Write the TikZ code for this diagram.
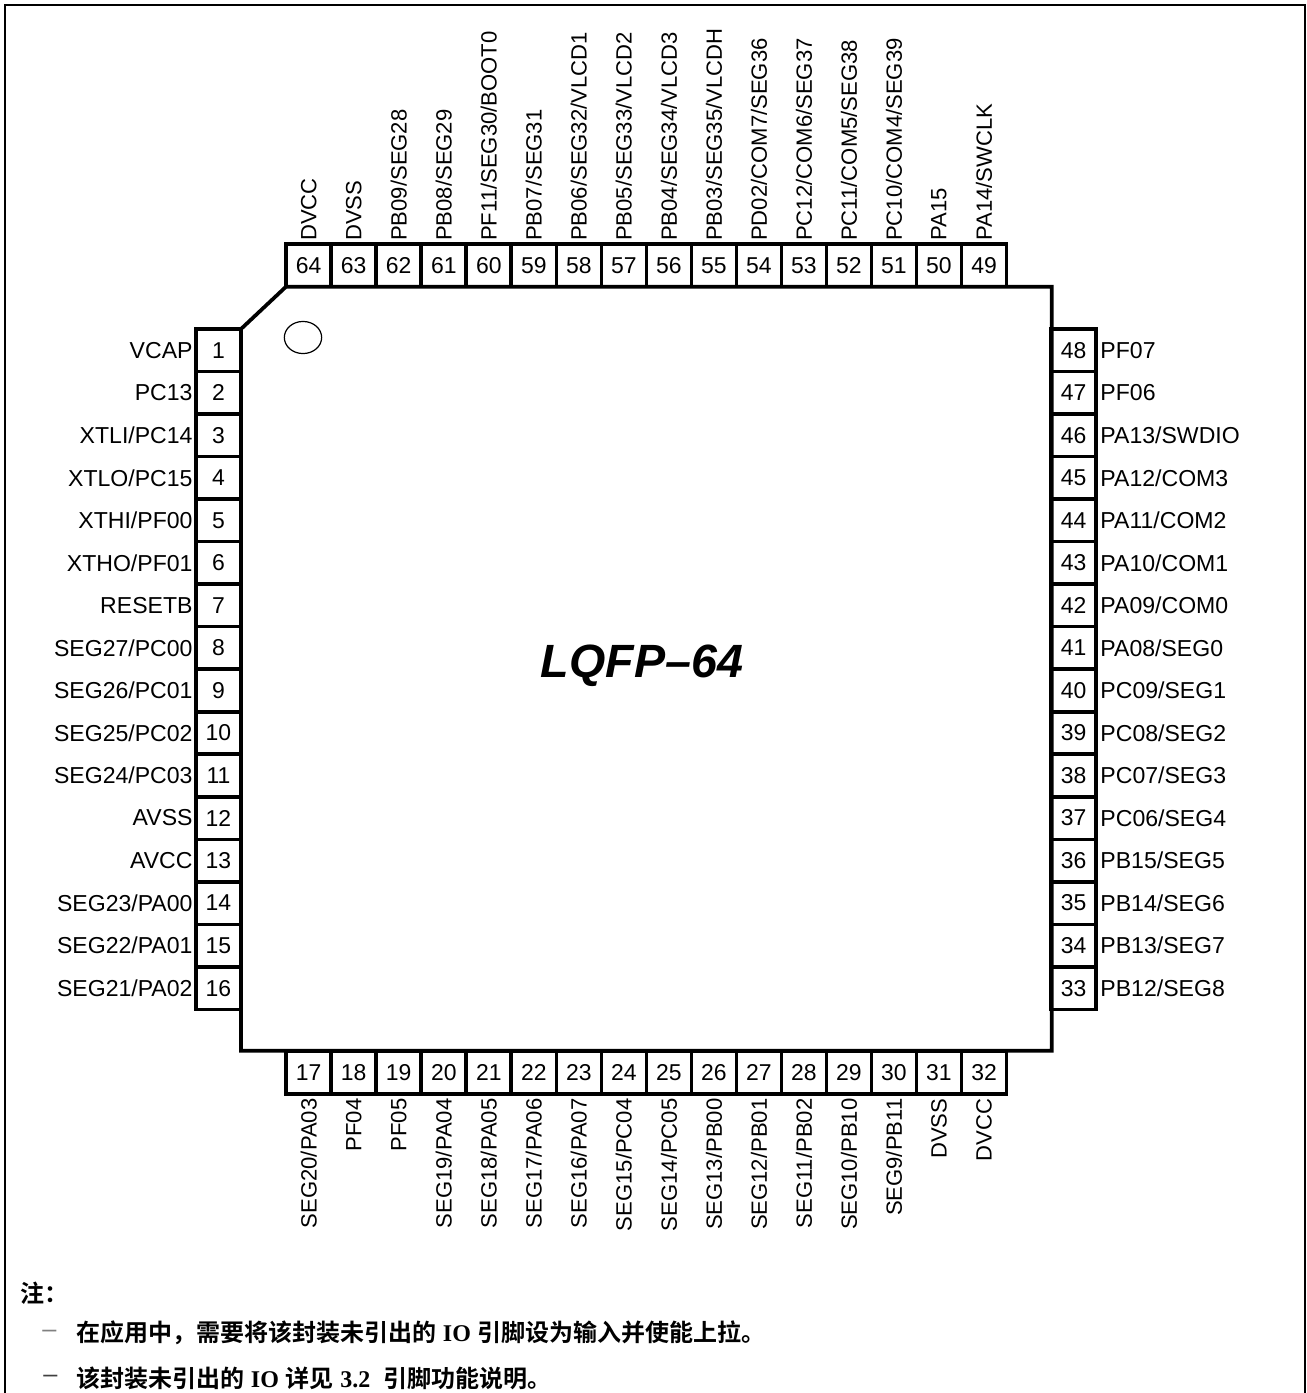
\documentclass[tikz,border=0pt]{standalone}
\usepackage{fontspec}
\setmainfont{Liberation Sans}
\newfontfamily\cjk{Noto Sans CJK SC Bold}
\newfontfamily\latn{Liberation Serif}
\usetikzlibrary{positioning}
\newcommand{\Note}[1]{{\cjk #1}}
\newcommand{\Io}[1]{{\latn\bfseries #1}}
\tikzset{
    pinbox/.style={draw, line width=2.7pt, inner sep=0pt, outer sep=0pt, font=\fontsize{17.2}{20}\selectfont},
    hpin/.style={pinbox, minimum width=33.75pt, minimum height=31.9pt},
    vpin/.style={pinbox, minimum width=33.75pt, minimum height=32pt},
    pinname/.style={inner sep=0pt, font=\fontsize{17.3}{20}\selectfont},
    upname/.style={inner sep=0pt, rotate=90, font=\fontsize{16.55}{20}\selectfont},
    notetext/.style={inner sep=0pt, anchor=west, font=\fontsize{18}{22}\selectfont},
    notedash/.style={inner sep=0pt, anchor=west, font=\fontsize{19}{22}\selectfont},
}
\begin{document}
\begin{tikzpicture}[x=0.75pt, y=-0.75pt]
    \useasboundingbox (0,0) rectangle (1307,1393);

    % frame, open at the bottom
    \draw[line width=1.9pt] (5,1393) -- (5,5) -- (1305,5) -- (1305,1393);

    % package body
    \draw[line width=2.8pt, line join=miter] (286,286.7) -- (1051.7,286.7) -- (1051.7,1050.7)
      -- (241,1050.7) -- (241,329) -- cycle;
    \node[draw, circle, line width=0.9pt, minimum width=28pt, minimum height=0pt, inner sep=0pt,
      yscale=0.86] (dot) at (303,337.5) {};
    \node[inner sep=0pt, font=\fontsize{35}{40}\selectfont\bfseries\itshape] (title) at (642,666) {LQFP\textendash 64};

    % left side
    \foreach \n/\t [count=\i from 0] in {1/VCAP, 2/PC13, 3/XTLI\slash PC14, 4/XTLO\slash PC15,
        5/XTHI\slash PF00, 6/XTHO\slash PF01, 7/RESETB, 8/SEG27\slash PC00, 9/SEG26\slash PC01,
        10/SEG25\slash PC02, 11/SEG24\slash PC03, 12/AVSS, 13/AVCC, 14/SEG23\slash PA00,
        15/SEG22\slash PA01, 16/SEG21\slash PA02} {
      \node[hpin] (p\n) at (218.5,350.2+42.53*\i) {\n};
      \node[pinname, left=2.4pt of p\n] (n\n) {\t};
    }

    % right side
    \foreach \n/\t [count=\i from 0] in {48/PF07, 47/PF06, 46/PA13\slash SWDIO, 45/PA12\slash COM3,
        44/PA11\slash COM2, 43/PA10\slash COM1, 42/PA09\slash COM0, 41/PA08\slash SEG0,
        40/PC09\slash SEG1, 39/PC08\slash SEG2, 38/PC07\slash SEG3, 37/PC06\slash SEG4,
        36/PB15\slash SEG5, 35/PB14\slash SEG6, 34/PB13\slash SEG7, 33/PB12\slash SEG8} {
      \node[hpin] (p\n) at (1073.7,350.2+42.53*\i) {\n};
      \node[pinname, right=3pt of p\n] (n\n) {\t};
    }

    % top side
    \foreach \n/\t [count=\i from 0] in {64/DVCC, 63/DVSS, 62/PB09\slash SEG28, 61/PB08\slash SEG29,
        60/PF11\slash SEG30\slash BOOT0, 59/PB07\slash SEG31, 58/PB06\slash SEG32\slash VLCD1,
        57/PB05\slash SEG33\slash VLCD2, 56/PB04\slash SEG34\slash VLCD3, 55/PB03\slash SEG35\slash VLCDH,
        54/PD02\slash COM7\slash SEG36, 53/PC12\slash COM6\slash SEG37, 52/PC11\slash COM5\slash SEG38,
        51/PC10\slash COM4\slash SEG39, 50/PA15, 49/PA14\slash SWCLK} {
      \node[vpin] (p\n) at (308.7+45.02*\i,265.3) {\n};
      \node[upname, anchor=west] (n\n) at ([yshift=2.2pt]p\n.north) {\t};
    }

    % bottom side
    \foreach \n/\t [count=\i from 0] in {17/SEG20\slash PA03, 18/PF04, 19/PF05, 20/SEG19\slash PA04,
        21/SEG18\slash PA05, 22/SEG17\slash PA06, 23/SEG16\slash PA07, 24/SEG15\slash PC04,
        25/SEG14\slash PC05, 26/SEG13\slash PB00, 27/SEG12\slash PB01, 28/SEG11\slash PB02,
        29/SEG10\slash PB10, 30/SEG9\slash PB11, 31/DVSS, 32/DVCC} {
      \node[vpin] (p\n) at (308.7+45.02*\i,1072.5) {\n};
      \node[upname, anchor=east] (n\n) at ([yshift=-3.4pt]p\n.south) {\t};
    }

    % notes
    \node[notetext] (note) at (20,1293) {\Note{注：}};
    \node[notedash, text=gray] (dasha) at (42,1334) {\textendash};
    \node[notetext] (linea) at (76,1333) {\Note{在应用中，需要将该封装未引出的} \Io{IO} \Note{引脚设为输入并使能上拉。}};
    \node[notedash, text=black!75] (dashb) at (43,1379) {\textendash};
    \node[notetext] (lineb) at (76,1378) {\Note{该封装未引出的} \Io{IO} \Note{详见} \Io{3.2} \ \Note{引脚功能说明。}};
\end{tikzpicture}
\end{document}
